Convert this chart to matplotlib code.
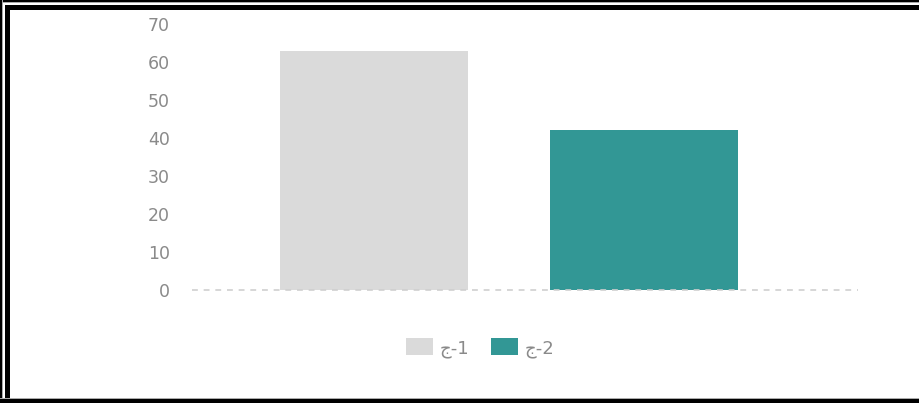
import matplotlib
matplotlib.use("Agg")
import matplotlib.pyplot as plt
from matplotlib.patches import Rectangle, Patch

# Data
categories = ["ج-1", "ج-2"]
values = [63, 42]
colors = ["#dadada", "#329795"]
yticks = [0, 10, 20, 30, 40, 50, 60, 70]

W, H = 919, 403
fig = plt.figure(figsize=(W / 100, H / 100), dpi=100)
fig.patch.set_facecolor("white")

ax = fig.add_axes([192 / W, (H - 290) / H, (858 - 192) / W, (290 - 24) / H])
x = list(range(len(categories)))
ax.bar(x, values, width=0.696, color=colors, zorder=2)
ax.set_xlim(-0.674, 1.793)
ax.set_ylim(0, 70)
ax.set_yticks(yticks)
ax.set_yticklabels([str(t) for t in yticks], fontsize=12.5, color="#8a8a8a",
                   family=["DejaVu Sans"])
ax.tick_params(axis="y", length=0, pad=16)
ax.set_xticks([])
for s in ax.spines.values():
    s.set_visible(False)
ax.axhline(0, color="#cfcfcf", lw=1.2, ls=(0, (3.5, 3.5)), zorder=3, clip_on=False)

handles = [Patch(facecolor=c, edgecolor="none") for c in colors]
leg = fig.legend(handles, categories, loc="center", bbox_to_anchor=(480 / W, 1 - 348 / H),
                 ncol=2, frameon=False, handlelength=1.5, handleheight=1.05,
                 columnspacing=1.2, handletextpad=0.35,
                 prop={"family": ["DejaVu Sans"], "size": 13})
for t in leg.get_texts():
    t.set_color("#8a8a8a")

# Frame (double border)
def px_rect(x0, y0, w, h, color):
    fig.add_artist(Rectangle((x0 / W, 1 - (y0 + h) / H), w / W, h / H,
                             transform=fig.transFigure, facecolor=color,
                             edgecolor="none", zorder=10))

px_rect(0, 0, W, 2, "black")       # top outer
px_rect(0, 2, W, 1, "#aaaaaa")
px_rect(0, 0, 2, H, "black")       # left outer
px_rect(2, 0, 1, H, "#aaaaaa")
px_rect(5, 5, W, 5, "black")       # top inner
px_rect(5, 5, 5, H, "black")       # left inner
px_rect(0, 399, W, 4, "black")     # bottom
px_rect(0, 398, W, 1, "#aaaaaa")

fig.savefig("out.png", dpi=100)
